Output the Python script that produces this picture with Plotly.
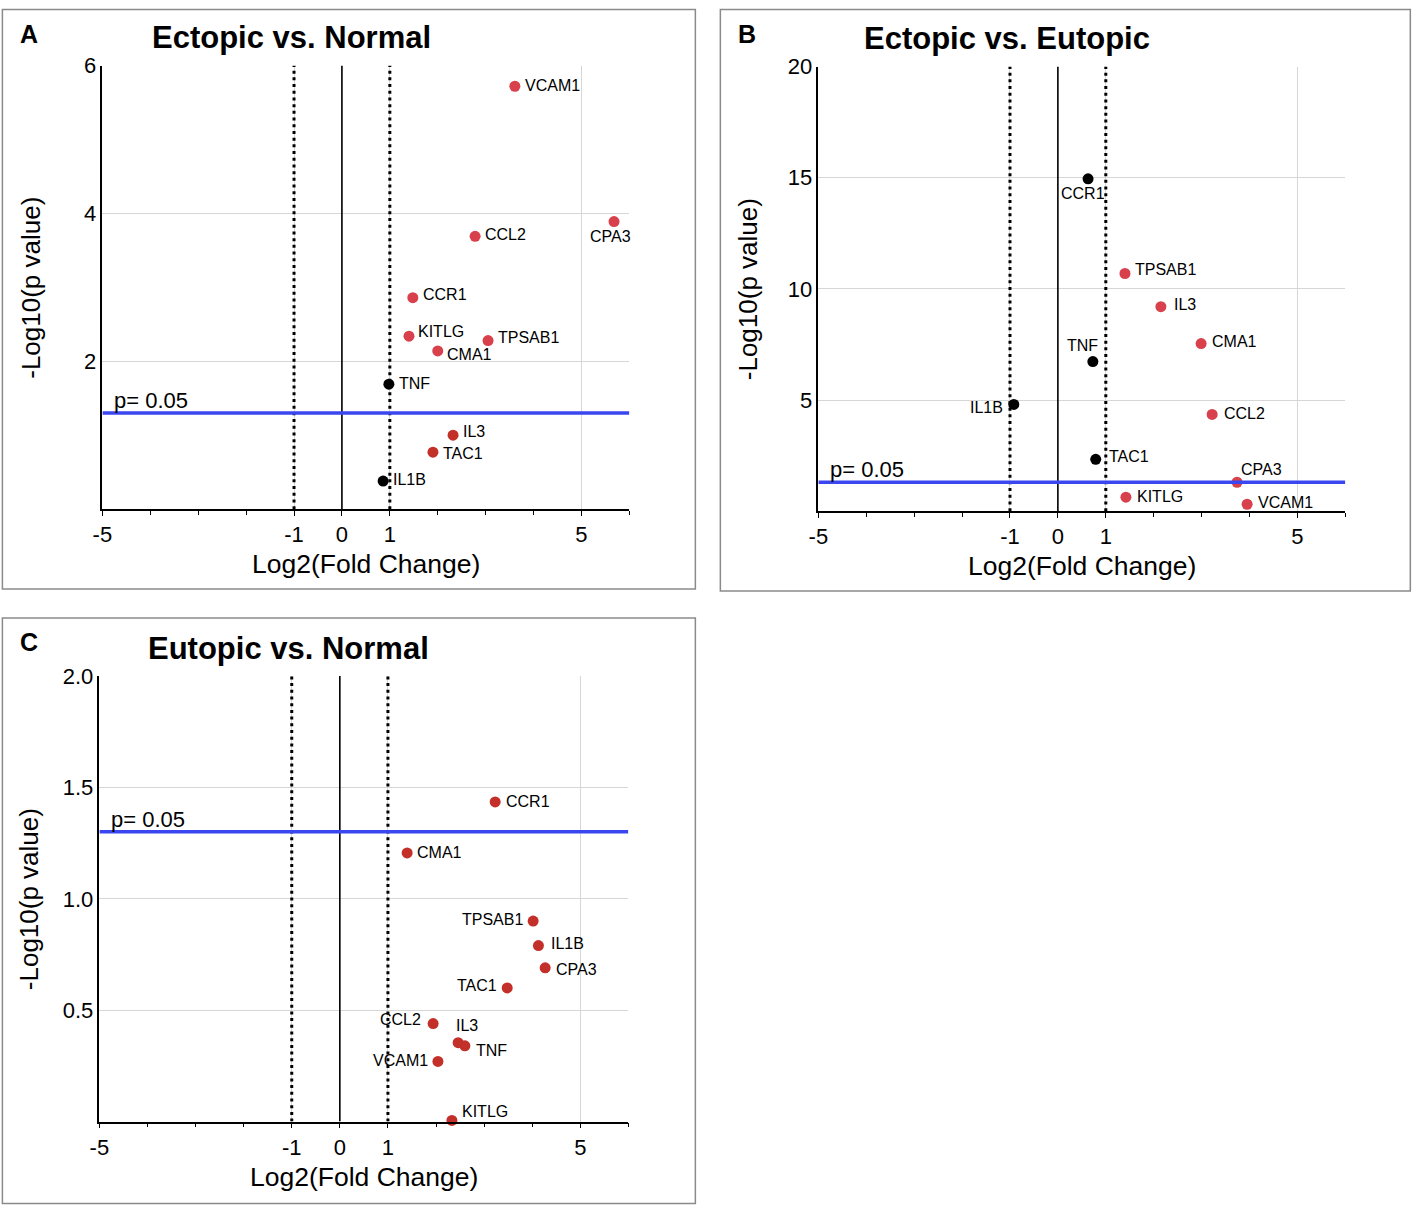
import plotly.graph_objects as go

W, H = 1417, 1213
# how figure pixels land in the final picture (measured): shot = A + S * fig
AX, AY = 8.6, 12.4
SX, SY = 0.993, 0.991

# ---- data ----
genes_a = ["VCAM1", "CPA3", "CCL2", "CCR1", "KITLG", "TPSAB1", "CMA1", "TNF", "IL3", "TAC1", "IL1B"]
fc_a = [3.61, 5.68, 2.78, 1.48, 1.40, 3.05, 2.00, 0.98, 2.32, 1.90, 0.86]
logp_a = [5.72, 3.89, 3.69, 2.86, 2.34, 2.28, 2.14, 1.69, 1.00, 0.77, 0.38]
group_a = ["up", "up", "up", "up", "up", "up", "up", "flat", "up_dim", "up_dim", "flat"]

genes_b = ["CCR1", "TPSAB1", "IL3", "CMA1", "TNF", "IL1B", "CCL2", "TAC1", "CPA3", "KITLG", "VCAM1"]
fc_b = [0.63, 1.40, 2.15, 2.99, 0.73, -0.92, 3.22, 0.79, 3.74, 1.42, 3.95]
logp_b = [14.95, 10.69, 9.20, 7.54, 6.73, 4.80, 4.35, 2.33, 1.30, 0.63, 0.31]
group_b = ["flat", "up", "up", "up", "flat", "flat", "up", "flat", "up", "up", "up"]

genes_c = ["CCR1", "CMA1", "TPSAB1", "IL1B", "CPA3", "TAC1", "CCL2", "IL3", "TNF", "VCAM1", "KITLG"]
fc_c = [3.23, 1.40, 4.02, 4.13, 4.27, 3.48, 1.94, 2.46, 2.60, 2.04, 2.33]
logp_c = [1.435, 1.206, 0.90, 0.79, 0.69, 0.60, 0.44, 0.354, 0.34, 0.27, 0.005]
group_c = ["up_dim"] * 11

titles = ["Ectopic vs. Normal", "Ectopic vs. Eutopic", "Eutopic vs. Normal"]
letters = ["A", "B", "C"]
y_ranges = [[0, 6], [0, 20], [0, 2.0]]
y_ticks = [[2, 4, 6], [5, 10, 15, 20], [0.5, 1.0, 1.5, 2.0]]
y_ticktext = [["2", "4", "6"], ["5", "10", "15", "20"], ["0.5", "1.0", "1.5", "2.0"]]
x_major = [-5, -1, 0, 1, 5]
x_minor = [-4, -3, -2, 2, 3, 4, 6]
fc_cut = 1
p_cut = 1.301  # -log10(0.05)

COLORS = {"up": "#d8414b", "up_dim": "#c3302a", "flat": "#000000"}

# label placement: (anchor, x shift px, y shift px)
label_pos = [
    {"VCAM1": ("left", 8, 1), "CPA3": ("center", -4, -15), "CCL2": ("left", 8, 2),
     "CCR1": ("left", 8, 3), "KITLG": ("left", 7, 5), "TPSAB1": ("left", 8, 3),
     "CMA1": ("left", 7, -4), "TNF": ("left", 8, 1), "IL3": ("left", 8, 4),
     "TAC1": ("left", 8, -1), "IL1B": ("left", 8, 2)},
    {"CCR1": ("center", -5, -15), "TPSAB1": ("left", 8, 4), "IL3": ("left", 11, 2),
     "CMA1": ("left", 9, 2), "TNF": ("center", -10, 16), "IL1B": ("right", -9, -3),
     "CCL2": ("left", 10, 1), "TAC1": ("left", 11, 3), "CPA3": ("left", 2, 13),
     "KITLG": ("left", 9, 1), "VCAM1": ("left", 9, 2)},
    {"CCR1": ("left", 9, 0), "CMA1": ("left", 8, 0), "TPSAB1": ("right", -8, 2),
     "IL1B": ("left", 11, 2), "CPA3": ("left", 9, -2), "TAC1": ("right", -8, 2),
     "CCL2": ("right", -10, 4), "IL3": ("left", -4, 17), "TNF": ("left", 9, -5),
     "VCAM1": ("right", -8, 1), "KITLG": ("left", 8, 9)},
]

panels = [(genes_a, fc_a, logp_a, group_a), (genes_b, fc_b, logp_b, group_b), (genes_c, fc_c, logp_c, group_c)]

# plot areas in reference pixels (left, right, top, bottom) and panel boxes
areas = [(101, 628, 66, 510), (817, 1344, 67, 512), (98, 627, 677, 1123)]
boxes = [(1, 694, 10, 590), (719, 1409, 10, 592), (1, 694, 619, 1205)]


def px(x):
    return (x - AX) / SX / W


def py(y):
    return 1 - (y - AY) / SY / H


FONT = "Liberation Sans, Arial, sans-serif"
fig = go.Figure()
shapes = []
annotations = []

for i, (genes, fc, logp, group) in enumerate(panels):
    n = "" if i == 0 else str(i + 1)
    xa, ya = "x" + n, "y" + n
    fig.add_trace(go.Scatter(
        x=fc, y=logp, mode="markers", text=genes,
        marker=dict(size=11, color=[COLORS[g] for g in group]),
        cliponaxis=False, showlegend=False, xaxis=xa, yaxis=ya, hoverinfo="x+y+text",
    ))
    for g, xv, yv in zip(genes, fc, logp):
        anc, sx, sy = label_pos[i][g]
        annotations.append(dict(xref=xa, yref=ya, x=xv, y=yv, text=g, showarrow=False,
                                xanchor=anc, yanchor="middle", xshift=sx, yshift=sy,
                                font=dict(family=FONT, size=16, color="black")))

    l, r, t, b = areas[i]
    fig.update_layout(**{
        "xaxis" + n: dict(
            domain=[px(l), px(r)], anchor=ya, range=[-5, 6],
            tickvals=x_major, ticktext=[str(v) for v in x_major],
            ticks="outside", ticklen=5, tickcolor="black", tickwidth=1.2,
            minor=dict(tickvals=x_minor, ticks="outside", ticklen=4, tickcolor="black", showgrid=False),
            showline=True, linecolor="black", linewidth=1.5,
            showgrid=True, gridcolor="#d6d6d6", gridwidth=1, zeroline=False,
            tickfont=dict(family=FONT, size=22, color="black"),
        ),
        "yaxis" + n: dict(
            domain=[py(b), py(t)], anchor=xa, range=y_ranges[i],
            tickvals=y_ticks[i], ticktext=y_ticktext[i], ticks="",
            showline=True, linecolor="black", linewidth=1.5,
            showgrid=True, gridcolor="#d6d6d6", gridwidth=1, zeroline=False,
            tickfont=dict(family=FONT, size=22, color="black"),
        ),
    })

    # threshold lines
    for v in (-fc_cut, fc_cut):
        shapes.append(dict(type="line", xref=xa, yref=ya, x0=v, x1=v, y0=y_ranges[i][0], y1=y_ranges[i][1],
                           line=dict(color="black", width=3, dash="3px,3.7px")))
    shapes.append(dict(type="line", xref=xa, yref=ya, x0=0, x1=0, y0=y_ranges[i][0], y1=y_ranges[i][1],
                       line=dict(color="black", width=1.6)))
    shapes.append(dict(type="line", xref=xa, yref=ya, x0=-5, x1=6, y0=p_cut, y1=p_cut,
                       line=dict(color="#3a47f0", width=3.5)))
    annotations.append(dict(xref=xa, yref=ya, x=-4.8, y=p_cut, text="p= 0.05", showarrow=False,
                            xanchor="left", yanchor="bottom", yshift=-2,
                            font=dict(family=FONT, size=22, color="black")))

    # panel frame
    bl, br, bt, bb = boxes[i]
    shapes.append(dict(type="rect", xref="paper", yref="paper", x0=px(bl), x1=px(br), y0=py(bb), y1=py(bt),
                       line=dict(color="#8a8a8a", width=1.5)))

    # titles and labels
    annotations.append(dict(xref="paper", yref="paper", x=px(bl + 27), y=py(bt + 24), text="<b>%s</b>" % letters[i],
                            showarrow=False, xanchor="center", yanchor="middle",
                            font=dict(family=FONT, size=25, color="black")))
    annotations.append(dict(xref="paper", yref="paper", x=px(l + 189), y=py(t - 28), text="<b>%s</b>" % titles[i],
                            showarrow=False, xanchor="center", yanchor="middle",
                            font=dict(family=FONT, size=31, color="black")))
    annotations.append(dict(xref="paper", yref="paper", x=px((l + r) / 2), y=py(b + 55), text="Log2(Fold Change)",
                            showarrow=False, xanchor="center", yanchor="middle",
                            font=dict(family=FONT, size=26.5, color="black")))
    annotations.append(dict(xref="paper", yref="paper", x=px(l - 71), y=py((t + b) / 2), text="-Log10(p value)",
                            showarrow=False, xanchor="center", yanchor="middle", textangle=-90,
                            font=dict(family=FONT, size=26, color="black")))

fig.update_layout(
    width=W, height=H, margin=dict(l=0, r=0, t=0, b=0),
    paper_bgcolor="white", plot_bgcolor="white",
    shapes=shapes, annotations=annotations,
)

fig.write_html("out.html", config={"displayModeBar": False},
               post_script="document.body.style.margin='0px';")
